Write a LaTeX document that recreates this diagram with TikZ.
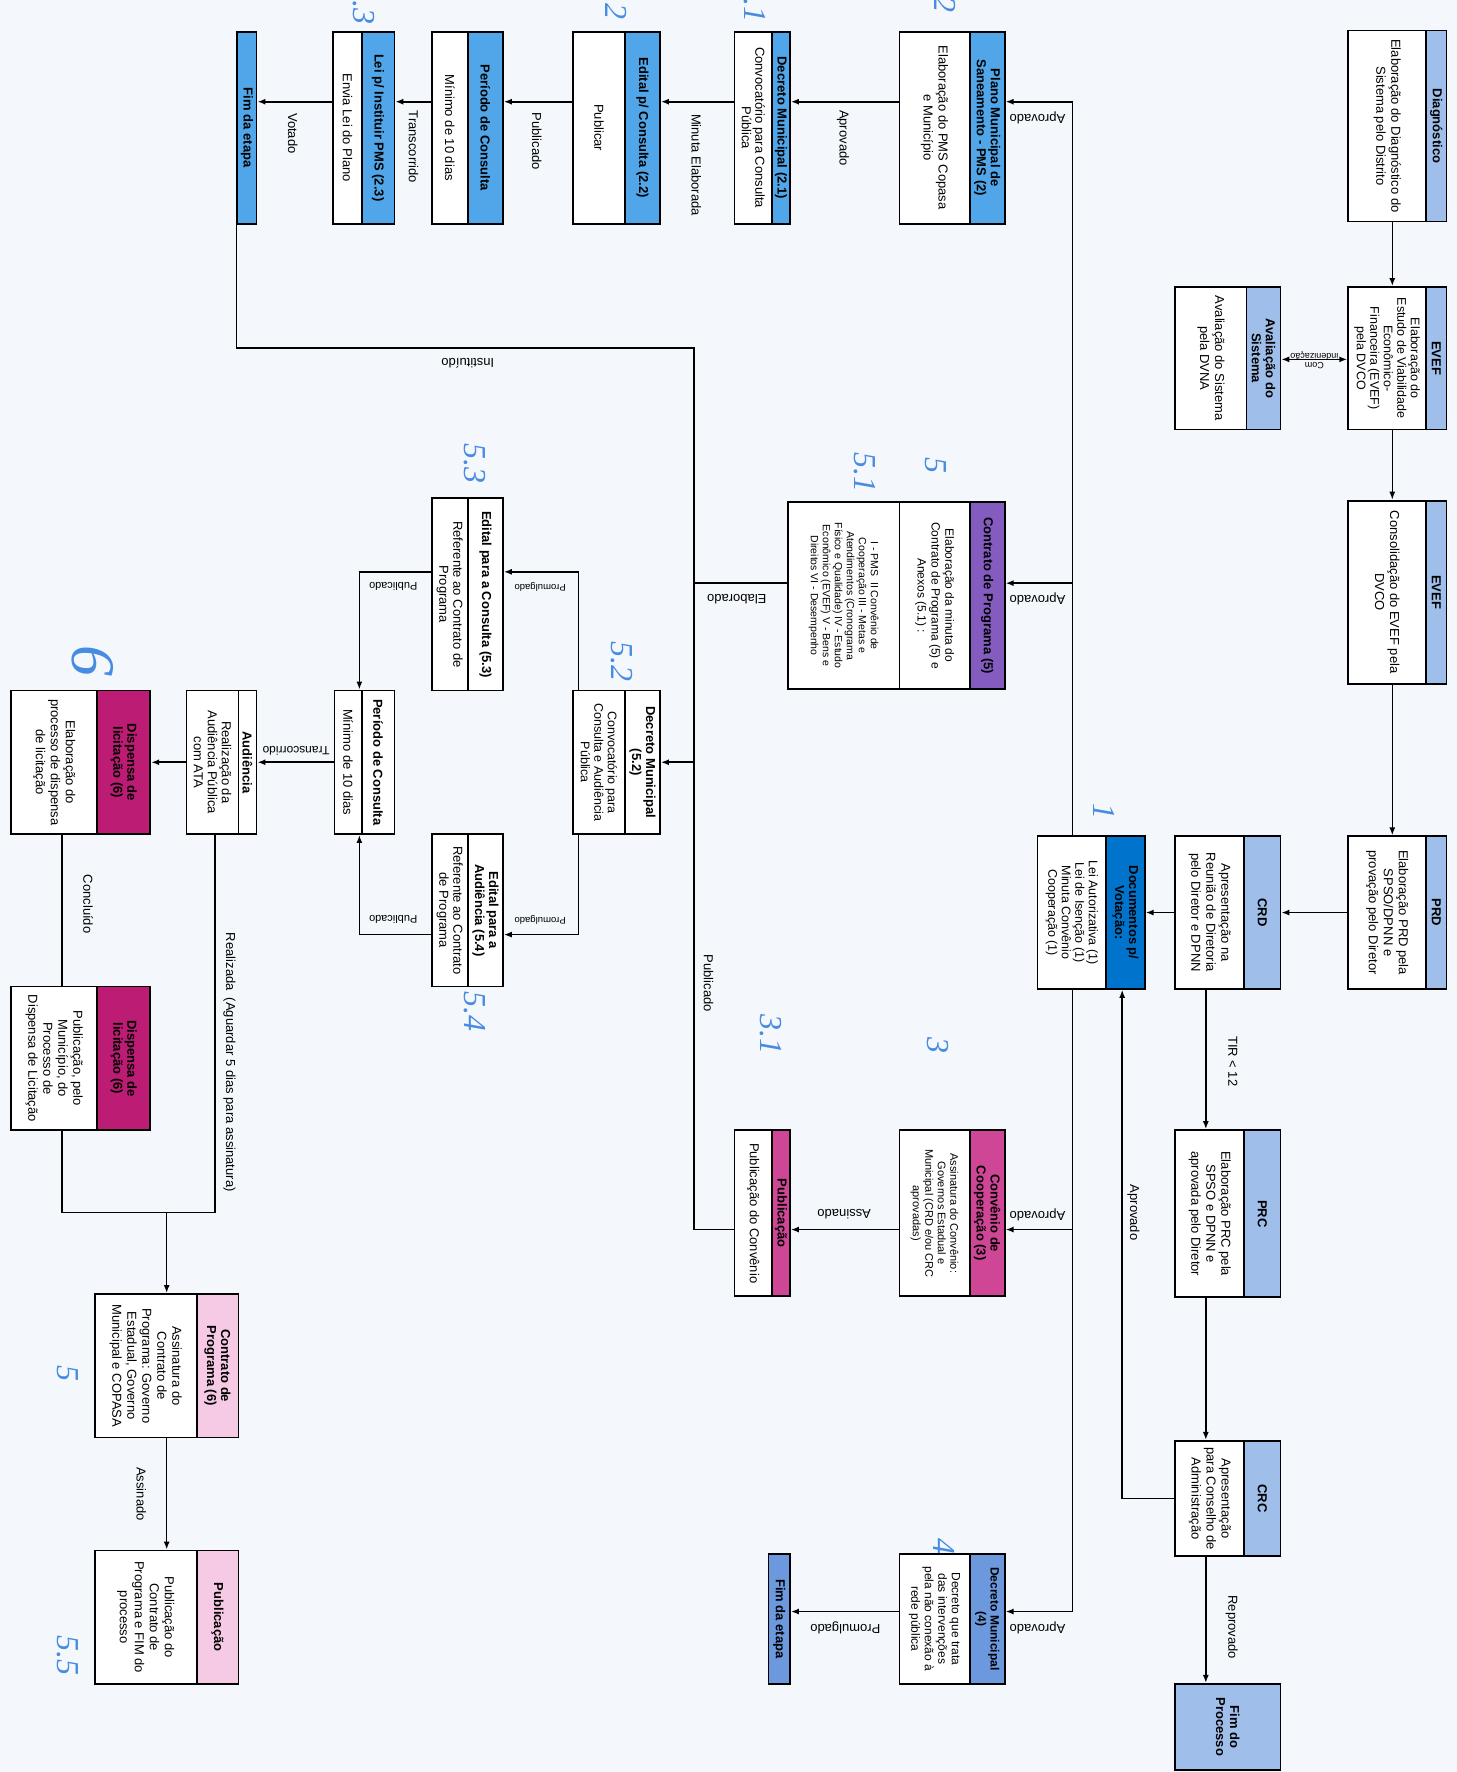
\documentclass[tikz,border=0pt]{standalone}
\usepackage{fontspec}
\setmainfont{Liberation Sans}
\newfontfamily\handfont{Liberation Serif}
\usetikzlibrary{arrows.meta,fit}
\definecolor{bgc}{RGB}{244,248,252}
\definecolor{lblue}{RGB}{160,190,234}
\definecolor{mblue}{RGB}{80,166,232}
\definecolor{dblue}{RGB}{0,116,204}
\definecolor{purp}{RGB}{132,92,192}
\definecolor{mag}{RGB}{208,70,150}
\definecolor{dmag}{RGB}{188,28,116}
\definecolor{lpink}{RGB}{246,202,228}
\definecolor{dfblue}{RGB}{108,152,222}
\definecolor{annblue}{RGB}{72,140,226}
\def\bfnt{\fontsize{13}{15}\selectfont}
\def\tfnt{\bfseries\fontsize{13}{14}\selectfont}
\newcommand{\mybox}[9]{%
  \fill[white] (#2,#4) rectangle (#3,#5);
  \fill[#7] (#6,#4) rectangle (#3,#5);
  \draw[divl] (#6,#4) -- (#6,#5);
  \node[frame, fit={(#2,#4)(#3,#5)}] (#1) {};
  \node[ttl] (#1-t) at ({(#6+#3)/2},{(#4+#5)/2}) {#8};
  \node[bdy] (#1-b) at ({(#2+#6)/2},{(#4+#5)/2}) {#9};
}
\newcommand{\solidbox}[7]{%
  \node[frame, fill=#6, fit={(#2,#4)(#3,#5)}] (#1) {};
  \node[ttl] (#1-t) at ({(#2+#3)/2},{(#4+#5)/2}) {#7};
}
\tikzset{
  frame/.style={draw=black, line width=1.8pt, inner sep=0pt},
  divl/.style={draw=black, line width=1.8pt},
  ttl/.style={rotate=-90, font=\tfnt, align=center, inner sep=0pt},
  bdy/.style={rotate=-90, font=\bfnt, align=center, inner sep=0pt},
  conn/.style={draw=black, line width=1.6pt},
  arr/.style={conn, -{Latex[length=8pt,width=6pt]}},
  darr/.style={conn, {Latex[length=8pt,width=6pt]}-{Latex[length=8pt,width=6pt]}},
  lbl/.style={font=\fontsize{13}{14}\selectfont, inner sep=0pt, align=center},
  slbl/.style={font=\fontsize{9.5}{9.5}\selectfont, inner sep=0pt, align=center},
  ann/.style={text=annblue, font=\handfont\itshape\fontsize{32}{32}\selectfont, rotate=-90, inner sep=0pt},
}
\begin{document}
\begin{tikzpicture}[x=1.1303pt, y=-1.1303pt]
\useasboundingbox (0,0) rectangle (1289,1568);
\fill[bgc] (0,0) rectangle (1289,1568);

% ---- column 1
\mybox{diag}{1193}{1280}{27}{196}{1262}{lblue}{Diagnóstico}{Elaboração do Diagnóstico do\\Sistema pelo Distrito}
\def\bfnt{\fontsize{12.5}{13.5}\selectfont}
\mybox{evef1}{1193}{1280}{254}{380}{1262}{lblue}{EVEF}{Elaboração do\\Estudo de Viabilidade\\Econômico-\\Financeira (EVEF)\\pela DVCO}
\def\bfnt{\fontsize{13}{15}\selectfont}
\mybox{evef2}{1193}{1280}{443}{605}{1262}{lblue}{EVEF}{Consolidação do EVEF pela\\DVCO}
\mybox{prd}{1193}{1280}{740}{875}{1262}{lblue}{PRD}{Elaboração PRD pela\\SPSO/DPNN e\\provação pelo Diretor}

% ---- column 2
\mybox{aval}{1040}{1133}{254}{380}{1103}{lblue}{Avaliação do\\Sistema}{Avaliação do Sistema\\pela DVNA}
\mybox{crd}{1040}{1133}{740}{875}{1101}{lblue}{CRD}{Apresentação na\\Reunião de Diretoria\\pelo Diretor e DPNN}
\mybox{prc}{1040}{1133}{1000}{1148}{1101}{lblue}{PRC}{Elaboração PRC pela\\SPSO e DPNN e\\aprovada pelo Diretor}
\mybox{crc}{1040}{1133}{1275}{1377}{1101}{lblue}{CRC}{Apresentação\\para Conselho de\\Administração}
\solidbox{fimproc}{1040}{1133}{1490}{1566}{lblue}{Fim do\\Processo}

% ---- column 3
\def\bfnt{\fontsize{12.5}{13.5}\selectfont}
\mybox{doc}{918}{1013}{740}{875}{979}{dblue}{Documentos p/\\Votação:}{Lei Autorizativa (1)\\Lei de Isenção (1)\\Minuta Convênio\\Cooperação (1)}
\def\bfnt{\fontsize{13}{15}\selectfont}

% ---- row A
\mybox{plano}{796}{889}{28}{198}{858}{mblue}{Plano Municipal de\\Saneamento - PMS (2)}{Elaboração do PMS Copasa\\e Município}
\def\bfnt{\fontsize{13}{13.5}\selectfont}
\mybox{dec21}{650}{699}{28}{198}{683}{mblue}{Decreto Municipal (2.1)}{Convocatório para Consulta\\Pública}
\def\bfnt{\fontsize{13}{15}\selectfont}
\mybox{ed22}{507}{584}{28}{198}{553}{mblue}{Edital p/ Consulta (2.2)}{Publicar}
\mybox{per2}{382}{445}{28}{198}{414}{mblue}{Período de Consulta}{Mínimo de 10 dias}
\mybox{lei}{295}{349}{28}{198}{320}{mblue}{Lei p/ Instituir PMS (2.3)}{Envia Lei do Plano}
\solidbox{fim1}{210}{227}{28}{198}{mblue}{Fim da etapa}

% ---- Contrato de Programa (5)
\fill[white] (697,444) rectangle (889,610);
\fill[purp] (858,444) rectangle (889,610);
\draw[divl] (858,444) -- (858,610);
\draw[divl] (796,444) -- (796,610);
\node[frame, fit={(697,444)(889,610)}] (con5) {};
\node[ttl] (con5-t) at (873.5,527) {Contrato de Programa (5)};
\node[bdy, font=\fontsize{12}{14}\selectfont] (con5-m) at (827,527) {Elaboração da minuta do\\Contrato de Programa (5) e\\Anexos (5.1) :};
\node[bdy, font=\fontsize{10.5}{12}\selectfont] (con5-b) at (746.5,527) {I - PMS\ \ II Convênio de\\Cooperação III - Metas e\\Atendimentos (Cronograma\\Físico e Qualidade) IV - Estudo\\Econômico (EVEF) V - Bens e\\Direitos VI - Desempenho};

% ---- Convênio / Publicação / Decreto 4
\def\bfnt{\fontsize{11}{12.5}\selectfont}
\mybox{conv}{796}{889}{1000}{1147}{858}{mag}{Convênio de\\Cooperação (3)}{Assinatura do Convênio:\\Governos Estadual e\\Municipal (CRD e/ou CRC\\aprovadas)}
\def\bfnt{\fontsize{13}{15}\selectfont}
\mybox{pub31}{650}{699}{1000}{1147}{683}{mag}{Publicação}{Publicação do Convênio}
\def\bfnt{\fontsize{12}{13.5}\selectfont}
\def\tfnt{\bfseries\fontsize{12}{13}\selectfont}
\mybox{dec4}{796}{889}{1375}{1490}{858}{dfblue}{Decreto Municipal\\(4)}{Decreto que trata\\das intervenções\\pela não conexão à\\rede pública}
\def\tfnt{\bfseries\fontsize{13}{14}\selectfont}
\solidbox{fim2}{680}{699}{1375}{1490}{dfblue}{Fim da etapa}

% ---- group 5.x
\def\bfnt{\fontsize{12.5}{13.5}\selectfont}
\mybox{d52}{507}{584}{611}{738}{553}{white}{Decreto Municipal\\(5.2)}{Convocatório para\\Consulta e Audiência\\Pública}
\def\bfnt{\fontsize{13}{14}\selectfont}
\mybox{e53}{382}{445}{441}{611}{414}{white}{Edital para a Consulta (5.3)}{Referente ao Contrato de\\Programa}
\mybox{e54}{382}{445}{738}{873}{414}{white}{Edital para a\\Audiência (5.4)}{Referente ao Contrato\\de Programa}
\mybox{per5}{296}{349}{611}{738}{320}{white}{Período de Consulta}{Mínimo de 10 dias}
\mybox{aud}{165}{227}{611}{738}{211}{white}{Audiência}{Realização da\\Audiência Pública\\com ATA}
\def\bfnt{\fontsize{13}{15}\selectfont}
\mybox{disp1}{10}{133}{611}{738}{86}{dmag}{Dispensa de\\licitação (6)}{Elaboração do\\processo de dispensa\\de licitação}
\mybox{disp2}{10}{133}{873}{1000}{86}{dmag}{Dispensa de\\licitação (6)}{Publicação, pelo\\Município, do\\Processo de\\Dispensa de Licitação}
\mybox{c6}{84}{211}{1145}{1272}{174}{lpink}{Contrato de\\Programa (6)}{Assinatura do\\Contrato de\\Programa: Governo\\Estadual, Governo\\Municipal e COPASA}
\mybox{pubf}{84}{211}{1372}{1490}{174}{lpink}{Publicação}{Publicação do\\Contrato de\\Programa e FIM do\\processo}

% ---- helper coordinates
\coordinate (rA) at (0,90);
\coordinate (rC) at (0,516);
\coordinate (rE) at (0,1088);
\coordinate (rF) at (0,1426);
\coordinate (rI) at (0,308);
\coordinate (rY) at (0,318);
\coordinate (r53) at (0,506);
\coordinate (r54) at (0,827);
\coordinate (rG) at (0,1073);
\coordinate (spine) at (949,0);
\coordinate (spineB) at (614,0);
\coordinate (colZ) at (1232,0);
\coordinate (colA) at (1067,0);
\coordinate (colB) at (993,0);
\coordinate (colD) at (512,0);
\coordinate (colE) at (318,0);
\coordinate (colF) at (55,0);
\coordinate (colG) at (190,0);

% ---- connectors
\draw[arr] (diag.south -| colZ) -- (evef1.north -| colZ);
\draw[arr] (evef1.south -| colZ) -- (evef2.north -| colZ);
\draw[arr] (evef2.south -| colZ) -- (prd.north -| colZ);
\draw[arr] (prd.west) -- (crd.east);
\draw[arr] (crd.west) -- (doc.east);
\draw[arr] (crd.south -| colA) -- (prc.north -| colA);
\draw[arr] (prc.south -| colA) -- (crc.north -| colA);
\draw[arr] (crc.south -| colA) -- (fimproc.north -| colA);
\draw[arr] (crc.west) -| (doc.south -| colB);
\draw[darr] (aval.east |- rY) -- (evef1.west |- rY);

\draw[arr] (doc.north -| spine) |- (plano.east |- rA);
\draw[arr] (spine |- rC) -- (con5.east |- rC);
\draw[arr] (doc.south -| spine) |- (dec4.east |- rF);
\draw[arr] (spine |- rE) -- (conv.east |- rE);

\draw[arr] (plano.west |- rA) -- (dec21.east |- rA);
\draw[arr] (dec21.west |- rA) -- (ed22.east |- rA);
\draw[arr] (ed22.west |- rA) -- (per2.east |- rA);
\draw[arr] (per2.west |- rA) -- (lei.east |- rA);
\draw[arr] (lei.west |- rA) -- (fim1.east |- rA);

\draw[conn] (fim1.south west) |- (spineB |- rI) -- (spineB |- rE) -- (pub31.west |- rE);
\draw[conn] (con5.west |- rC) -- (spineB |- rC);
\draw[arr] (spineB |- d52.east) -- (d52.east);
\draw[arr] (conv.west |- rE) -- (pub31.east |- rE);
\draw[arr] (dec4.west |- rF) -- (fim2.east |- rF);

\draw[arr] (d52.north -| colD) |- (e53.east |- r53);
\draw[arr] (d52.south -| colD) |- (e54.east |- r54);
\draw[arr] (e53.west |- r53) -| (per5.north -| colE);
\draw[arr] (e54.west |- r54) -| (per5.south -| colE);
\draw[arr] (per5.west) -- (aud.east);
\draw[arr] (aud.west) -- (disp1.east);
\draw[conn] (disp1.south -| colF) -- (disp2.north -| colF);
\draw[conn] (disp2.south -| colF) |- (colG |- rG) -- (aud.south -| colG);
\draw[arr] (c6.north |- rG) -- (c6.north);
\draw[arr] (c6.south) -- (pubf.north);

% ---- connector labels
\node[slbl, rotate=180, font=\fontsize{9}{9}\selectfont] (l0) at (1163,319) {Com\\indenização};
\node[lbl, rotate=-90] (l1) at (1091,939) {TIR < 12};
\node[lbl, rotate=-90] (l2) at (1003,1073) {Aprovado};
\node[lbl, rotate=-90] (l3) at (1090,1440) {Reprovado};
\node[lbl, rotate=180] (l4) at (918,104) {Aprovado};
\node[lbl, rotate=180] (l5) at (918,530) {Aprovado};
\node[lbl, rotate=180] (l6) at (918,1075) {Aprovado};
\node[lbl, rotate=180] (l7) at (918,1440) {Aprovado};
\node[lbl, rotate=-90] (l8) at (746,122) {Aprovado};
\node[lbl, rotate=-90] (l9) at (616,146) {Minuta Elaborada};
\node[lbl, rotate=-90] (l10) at (475,125) {Publicado};
\node[lbl, rotate=-90] (l11) at (366,130) {Transcorrido};
\node[lbl, rotate=-90] (l12) at (259,118) {Votado};
\node[lbl, rotate=180] (l13) at (414,321) {Instituído};
\node[lbl, rotate=180] (l14) at (652,530) {Elaborado};
\node[lbl, rotate=-90] (l15) at (627,870) {Publicado};
\node[lbl, rotate=180] (l16) at (747,1074) {Assinado};
\node[lbl, rotate=180] (l17) at (748,1440) {Promulgado};
\node[slbl, rotate=180] (l18) at (478,519) {Promulgado};
\node[slbl, rotate=180] (l19) at (478,814) {Promulgado};
\node[lbl, rotate=180, font=\fontsize{11}{11}\selectfont] (l20) at (348,519) {Publicado};
\node[lbl, rotate=180, font=\fontsize{11}{11}\selectfont] (l21) at (348,814) {Publicado};
\node[lbl, rotate=180, font=\fontsize{12}{12}\selectfont] (l22) at (262,664) {Transcorrido};
\node[lbl, rotate=-90] (l23) at (78,800) {Concluído};
\node[lbl, rotate=-90] (l24) at (203,940) {Realizada\ \ (Aguardar 5 dias para assinatura)};
\node[lbl, rotate=-90] (l25) at (125,1322) {Assinado};

% ---- handwritten step numbers
\node[ann] (a1) at (977,718) {1};
\node[ann] (a2) at (836,4) {2};
\node[ann] (a21) at (668,2) {2.1};
\node[ann] (a22) at (545,0) {2.2};
\node[ann] (a23) at (322,4) {2.3};
\node[ann] (a5) at (828,412) {5};
\node[ann] (a51) at (765,418) {5.1};
\node[ann] (a53) at (420,410) {5.3};
\node[ann] (a52) at (550,585) {5.2};
\node[ann] (a54) at (420,895) {5.4};
\node[ann, font=\handfont\itshape\fontsize{62}{62}\selectfont] (a6) at (82,585) {6};
\node[ann] (a3) at (830,925) {3};
\node[ann] (a31) at (682,915) {3.1};
\node[ann] (a4) at (835,1368) {4};
\node[ann] (a5b) at (60,1215) {5};
\node[ann] (a55) at (60,1465) {5.5};
\end{tikzpicture}
\end{document}
